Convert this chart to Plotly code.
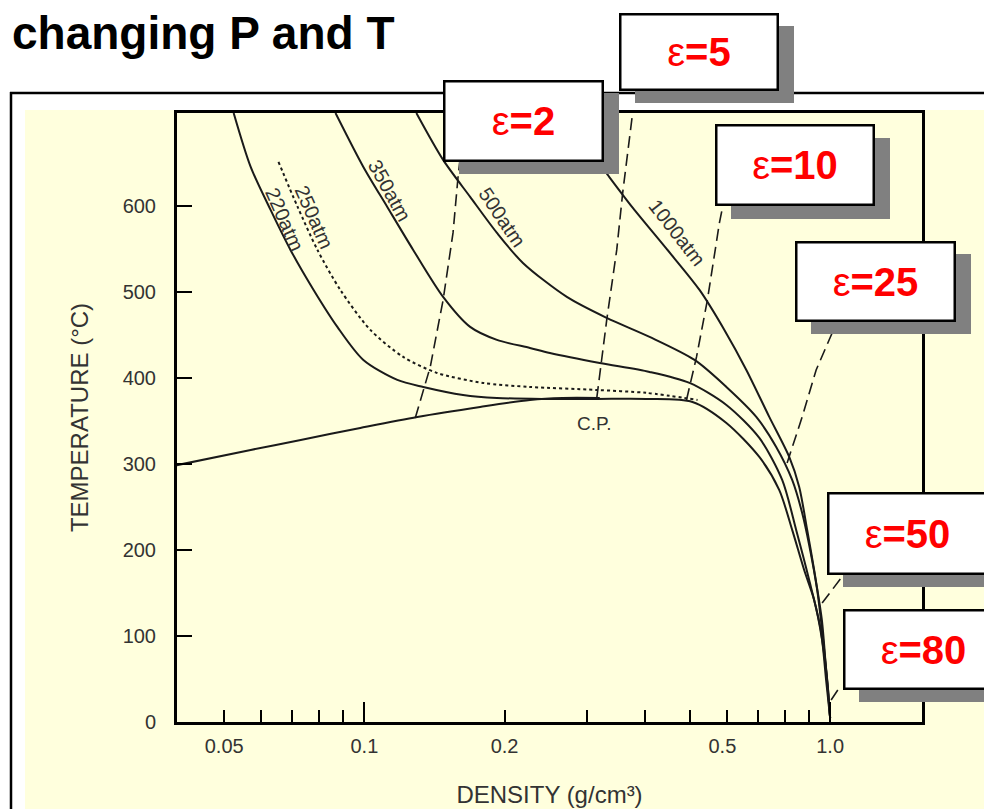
import math
import plotly.graph_objects as go

# ---------------- data (density g/cm3, temperature C) ----------------
coex_rho = [0.0395, 0.0570, 0.0730, 0.0980, 0.1299, 0.1772, 0.2267, 0.2667, 0.3202]
coex_T = [298.5, 316.3, 327.9, 341.9, 354.7, 366.3, 374.4, 376.7, 376.7]

p220_rho = [0.0524, 0.0570, 0.0629, 0.0694, 0.0778, 0.0875, 0.0995, 0.1177, 0.1338, 0.1629,
            0.1926, 0.2465, 0.3155, 0.4036, 0.5064, 0.5988, 0.7047, 0.7774, 0.8290, 0.8796,
            0.9241, 0.9613, 0.9853, 1.000]
p220_T = [708, 645.3, 595.3, 548.8, 502.3, 459.3, 420.9, 397.7, 389.5, 380.2,
          376.7, 375.6, 375.6, 375.6, 372.1, 347.7, 308.1, 269.8, 223.3, 176.7,
          141.9, 95.3, 48.8, 4.7]

p250_rho = [0.0654, 0.0719, 0.0793, 0.0888, 0.1030, 0.1212, 0.1433, 0.1798, 0.2267, 0.3155, 0.4036, 0.5192]
p250_T = [651.2, 598.8, 548.8, 502.3, 455.8, 424.4, 405.8, 394.2, 389.5, 386.0, 382.6, 374.4]

p350_rho = [0.0867, 0.0995, 0.1120, 0.1273, 0.1476, 0.1687, 0.1926, 0.2267, 0.2502, 0.3202,
            0.4096, 0.4990, 0.5988, 0.7047, 0.7890, 0.8455, 0.9016, 0.9550, 0.9804, 1.000]
p350_T = [708, 645.3, 598.8, 548.8, 494.2, 459.3, 444.2, 434.9, 429.1, 417.4,
          407.0, 394.2, 368.6, 330.2, 281.4, 223.3, 165.1, 107.0, 48.8, 4.7]

p500_rho = [0.1293, 0.1476, 0.1687, 0.1926, 0.2190, 0.2721, 0.3314, 0.4096, 0.5116, 0.5988,
            0.6942, 0.7660, 0.8290, 0.8710, 0.9016, 0.9380, 0.9661, 0.9902, 1.000]
p500_T = [708, 653.5, 610.5, 568.6, 533.7, 494.2, 469.8, 447.7, 420.9, 389.5,
          354.7, 319.8, 281.4, 243.0, 205.8, 153.5, 95.3, 37.2, 4.7]

p1000_rho = [0.2655, 0.3331, 0.3767, 0.4456, 0.5243, 0.5929, 0.6609, 0.7402, 0.8170, 0.8583,
             0.8928, 0.9241, 0.9600, 0.9804, 1.000]
p1000_T = [708, 636.0, 598.0, 550.0, 502.3, 455.8, 409.3, 354.7, 308.1, 273.3,
           223.3, 176.7, 118.6, 60.5, 4.7]

# dielectric-constant contours
e2_rho = [0.1286, 0.1385, 0.1476, 0.1550, 0.1589, 0.1613]
e2_T = [353.5, 412.8, 490.7, 568.6, 633.7, 665.1]
e5_rho = [0.3155, 0.3314, 0.3482, 0.3586, 0.3767]
e5_T = [376.7, 467.4, 548.8, 615.1, 708.1]
e10_rho = [0.4916, 0.5166, 0.5452, 0.5785, 0.5900]
e10_T = [374.4, 424.4, 490.7, 580.2, 603.5]
e25_rho = [0.8085, 0.8710, 0.9333, 1.010]
e25_T = [301.2, 354.7, 409.3, 452.3]
e50_rho = [0.9613, 1.056]
e50_T = [138.4, 167.4]
e80_rho = [1.005, 1.056]
e80_T = [25.6, 43.0]

isobar_labels = ["220atm", "250atm", "350atm", "500atm", "1000atm"]
isobar_label_rho = [0.0675, 0.0780, 0.1135, 0.1975, 0.4700]
isobar_label_T = [583.7, 587.2, 617.4, 587.2, 568.6]
isobar_label_angle = [66, 66, 61, 56, 52]

eps_labels = ["2", "5", "10", "25", "50", "80"]

y_ticks = [0, 100, 200, 300, 400, 500, 600]
x_label_vals = [0.05, 0.1, 0.2, 0.587, 1.0]
x_label_text = ["0.05", "0.1", "0.2", "0.5", "1.0"]
x_major_ticks = [0.1, 1.0]
x_minor_ticks = [0.05, 0.06, 0.07, 0.08, 0.09, 0.2, 0.3, 0.4, 0.5, 0.6, 0.7, 0.8, 0.9]

# ---------------- layout geometry ----------------
# page pixels (the html body adds an 8px margin around the figure)
BODY = 8
W, H = 992 - BODY, 809 - BODY
PLOT_L, PLOT_R, PLOT_T, PLOT_B = 177, 922, 113, 722          # page pixels
ML, MT = PLOT_L - BODY, PLOT_T - BODY
MR, MB = W - (PLOT_R - BODY), H - (PLOT_B - BODY)
PW, PH = PLOT_R - PLOT_L, PLOT_B - PLOT_T


def px(x):
    return (x - PLOT_L) / PW


def py(y):
    return (PLOT_B - y) / PH


# callout boxes (left, top, right, bottom in page pixels)
boxes = [(443, 76, 603, 157), (619, 9, 778, 86), (715, 121, 874, 202),
         (795, 237, 955, 317), (827, 488, 987, 570), (843, 605, 1003, 685)]

INK = "#1a1a1a"
fig = go.Figure()


def iso(x, y, dash=None):
    fig.add_trace(go.Scatter(x=x, y=y, mode="lines",
                             line=dict(color=INK, width=2, dash=dash, shape="spline", smoothing=0.8),
                             showlegend=False, hoverinfo="skip"))


iso(coex_rho, coex_T)
iso(p220_rho, p220_T)
iso(p250_rho, p250_T, dash="3px,3px")
iso(p350_rho, p350_T)
iso(p500_rho, p500_T)
iso(p1000_rho, p1000_T)

for xr, yt in [(e2_rho, e2_T), (e5_rho, e5_T), (e10_rho, e10_T), (e25_rho, e25_T),
               (e50_rho, e50_T), (e80_rho, e80_T)]:
    fig.add_trace(go.Scatter(x=xr, y=yt, mode="lines", xaxis="x2",
                             line=dict(color=INK, width=1.6, dash="12px,6px"),
                             showlegend=False, hoverinfo="skip"))

xrange = [math.log10(0.0396), math.log10(1.575)]
tick_font = dict(family="Liberation Sans", size=20, color="#333333")

fig.update_layout(
    width=W, height=H,
    margin=dict(l=ML, r=MR, t=MT, b=MB),
    paper_bgcolor="white", plot_bgcolor="white",
    xaxis=dict(type="log", range=xrange, showline=True, linewidth=3, linecolor="black",
               mirror=True, showgrid=False, zeroline=False, automargin=False,
               tickmode="array", tickvals=x_major_ticks, ticks="inside", ticklen=20,
               tickwidth=2, tickcolor="black", showticklabels=False,
               minor=dict(tickmode="array", tickvals=x_minor_ticks, ticks="inside",
                          ticklen=12, tickwidth=2, tickcolor="black")),
    xaxis2=dict(type="log", range=xrange, overlaying="x", anchor="y", side="bottom",
                showline=False, showgrid=False, zeroline=False, automargin=False,
                tickmode="array", tickvals=x_label_vals, ticktext=x_label_text, ticks="",
                tickfont=tick_font, ticklabelstandoff=10,
                title=dict(text="DENSITY (g/cm³)", standoff=30,
                           font=dict(family="Liberation Sans", size=24, color="#333333"))),
    yaxis=dict(range=[0, 708], showline=True, linewidth=3, linecolor="black", mirror=True,
               showgrid=False, zeroline=False, automargin=False,
               tickmode="array", tickvals=y_ticks, ticks="inside", ticklen=15, tickwidth=2,
               tickcolor="black", tickfont=tick_font, ticklabelstandoff=14,
               title=dict(text="TEMPERATURE (°C)", standoff=28,
                          font=dict(family="Liberation Sans", size=24, color="#333333"))),
)

shapes = [
    dict(type="rect", xref="paper", yref="paper", x0=px(25), x1=px(1005), y0=py(820), y1=py(110),
         fillcolor="#FFFFDD", line=dict(width=0), layer="below"),
    dict(type="line", xref="paper", yref="paper", x0=px(11), x1=px(11), y0=py(92), y1=py(820),
         line=dict(color="black", width=2.5), layer="below"),
    dict(type="line", xref="paper", yref="paper", x0=px(10), x1=px(1005), y0=py(93), y1=py(93),
         line=dict(color="black", width=2.5), layer="below"),
]
for (x0, y0, x1, y1) in boxes:
    shapes.append(dict(type="rect", xref="paper", yref="paper",
                       x0=px(x0 + 16), x1=px(x1 + 16), y0=py(y1 + 17), y1=py(y0 + 17),
                       fillcolor="#808080", line=dict(width=0), layer="above"))
fig.update_layout(shapes=shapes)

ann = []
ann.append(dict(text="<b>changing P and T</b>", xref="paper", yref="paper", x=px(10), y=py(33),
                xanchor="left", yanchor="middle", showarrow=False,
                font=dict(family="Liberation Sans", size=46, color="black")))
for lab, r, t, a in zip(isobar_labels, isobar_label_rho, isobar_label_T, isobar_label_angle):
    ann.append(dict(text=lab, xref="x", yref="y", x=math.log10(r), y=t, textangle=a,
                    showarrow=False, font=dict(family="Liberation Sans", size=20, color="#333333")))
ann.append(dict(text="C.P.", xref="x", yref="y", x=math.log10(0.3124), y=346.5, showarrow=False,
                font=dict(family="Liberation Sans", size=19, color="#333333")))
for lab, (x0, y0, x1, y1) in zip(eps_labels, boxes):
    ann.append(dict(text="ε<b>=" + lab + "</b>", xref="paper", yref="paper",
                    x=px((x0 + x1) / 2), y=py((y0 + y1) / 2 + 4), xanchor="center", yanchor="middle",
                    width=x1 - x0 - 4, height=y1 - y0 - 4, borderpad=0,
                    bgcolor="white", bordercolor="black", borderwidth=2.5, showarrow=False,
                    valign="middle",
                    font=dict(family="Liberation Sans", size=40, color="#FF0000")))
fig.update_layout(annotations=ann)

fig.write_html("out.html")
